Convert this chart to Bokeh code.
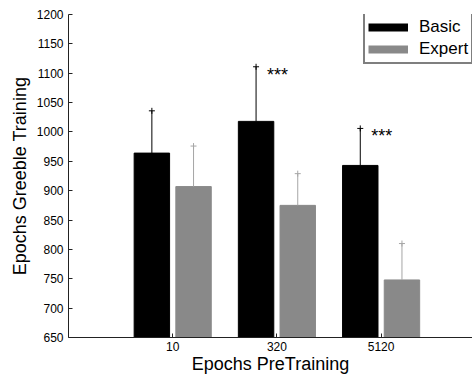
from bokeh.plotting import figure
from bokeh.models import Range1d, FixedTicker, Legend, LegendItem, ColumnDataSource
from bokeh.core.properties import value
from bokeh.embed import file_html
from bokeh.resources import INLINE
import numpy as np

groups = ["10", "320", "5120"]
group_x = [1, 2, 3]
basic = [964, 1018, 943]
expert = [907, 875, 748]
basic_err = [72, 93, 63]
expert_err = [69, 54, 62]
stars = ["", "***", "***"]
y_ticks = [650, 700, 750, 800, 850, 900, 950, 1000, 1050, 1100, 1150, 1200]

FONT = "Liberation Sans"
BASIC_C = "#000000"
EXPERT_C = "#898989"
EXPERT_ERR_C = "#a6a6a6"

p = figure(width=472, height=376, output_backend="svg", toolbar_location=None,
           x_range=Range1d(0, 3.877), y_range=Range1d(650, 1200),
           min_border_left=68, min_border_right=0, min_border_top=14, min_border_bottom=39)
p.outline_line_color = None
p.xgrid.grid_line_color = None
p.ygrid.grid_line_color = None
p.background_fill_color = "white"
p.border_fill_color = "white"

bx = [g - 0.2 for g in group_x]
ex = [g + 0.2 for g in group_x]
b_top = [v + e for v, e in zip(basic, basic_err)]
e_top = [v + e for v, e in zip(expert, expert_err)]

bsrc = ColumnDataSource(dict(x=bx, top=basic, err=b_top, stars=stars))
esrc = ColumnDataSource(dict(x=ex, top=expert, err=e_top))

p.vbar(x="x", top="top", bottom=650, width=0.34, source=bsrc, fill_color=BASIC_C, line_color=BASIC_C)
p.vbar(x="x", top="top", bottom=650, width=0.34, source=esrc, fill_color=EXPERT_C, line_color=EXPERT_C)

p.segment(x0="x", y0="top", x1="x", y1="err", source=bsrc, line_color=BASIC_C, line_width=1)
p.segment(x0="x", y0="top", x1="x", y1="err", source=esrc, line_color=EXPERT_ERR_C, line_width=1)
p.scatter(x="x", y="err", source=bsrc, marker="cross", size=6, line_color=BASIC_C, line_width=1)
p.scatter(x="x", y="err", source=esrc, marker="cross", size=6, line_color=EXPERT_ERR_C, line_width=1)

p.text(x="x", y="err", text="stars", source=bsrc, x_offset=11, y_offset=8,
       text_font=value(FONT), text_font_size="18px", text_color="black",
       text_baseline="alphabetic", text_align="left")

# axes
for ax in (p.xaxis[0], p.yaxis[0]):
    ax.axis_line_color = "#222222"
    ax.major_tick_line_color = "#222222"
    ax.major_tick_in = 4
    ax.major_tick_out = 0
    ax.minor_tick_line_color = None
    ax.major_label_text_font = FONT
    ax.major_label_text_font_size = "12px"
    ax.major_label_text_color = "black"
    ax.axis_label_text_font = FONT
    ax.axis_label_text_font_size = "18px"
    ax.axis_label_text_font_style = "normal"
    ax.axis_label_text_color = "black"

p.xaxis.ticker = FixedTicker(ticks=group_x)
p.xaxis.major_label_overrides = {g: s for g, s in zip(group_x, groups)}
p.xaxis.axis_label = "Epochs PreTraining"
p.xaxis.major_label_standoff = 4
p.xaxis.axis_label_standoff = 0

p.yaxis.ticker = FixedTicker(ticks=y_ticks)
p.yaxis.axis_label = "Epochs Greeble Training"
p.yaxis.major_label_standoff = 5
p.yaxis.axis_label_standoff = 4

# legend proxies
lb = p.line(x=[np.nan], y=[np.nan], line_color=BASIC_C, line_width=8)
le = p.line(x=[np.nan], y=[np.nan], line_color=EXPERT_C, line_width=8)
legend = Legend(items=[LegendItem(label="Basic", renderers=[lb]),
                       LegendItem(label="Expert", renderers=[le])],
                location=(295, 273), orientation="vertical",
                glyph_width=40, glyph_height=20, label_height=20,
                label_standoff=11, padding=3, spacing=2, margin=0,
                border_line_color="black", border_line_width=2,
                background_fill_color="white", background_fill_alpha=1,
                label_text_font=FONT, label_text_font_size="17px", label_text_color="black")
p.add_layout(legend, "center")

open("out.html", "w").write(file_html(p, INLINE))
